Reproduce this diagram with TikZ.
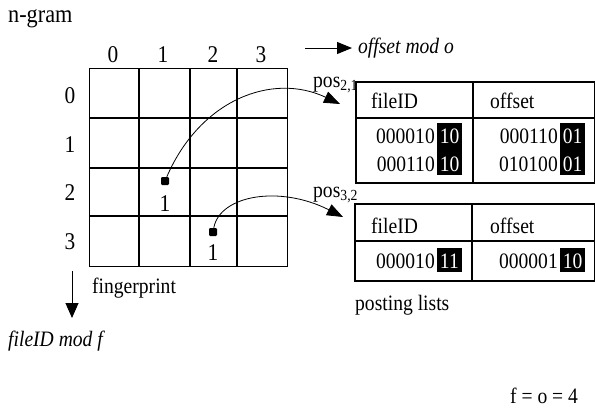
\documentclass[tikz,border=0pt]{standalone}
\usepackage{fontspec}
\setmainfont[FakeStretch=0.89]{Liberation Serif}
\usetikzlibrary{arrows.meta}

\tikzset{
  txt/.style = {inner sep=0pt, anchor=base west},
  num/.style = {inner sep=0pt, anchor=base east},
  lbl/.style = {inner sep=0pt, anchor=base, font=\fontsize{24}{26}\selectfont},
  hl/.style = {fill=black, text=white, inner xsep=2.75pt, inner ysep=0pt, anchor=base west},
  dotmark/.style = {fill=black, inner sep=0pt, minimum size=8pt, rounded corners=1.2pt},
  arrowline/.style = {line width=0.8pt, -{Triangle[length=16pt,width=12pt]}},
  listbox/.style = {draw, line width=1.6pt, inner sep=0pt, anchor=north west}
}

\begin{document}
\begin{tikzpicture}[x=1pt, y=-1pt, font=\fontsize{22}{24}\selectfont]
\useasboundingbox (0,0) rectangle (595,410);

\node[txt, font=\fontsize{25}{27}\selectfont] (ngram) at (8,22) {n-gram};

% matrix of the n-gram
\draw[line width=1pt] (89,68) rectangle (287,266);
\draw[line width=2.8pt] (139,68) -- (139,266) (190,68) -- (190,266) (237,68) -- (237,266)
    (89,118) -- (287,118) (89,168) -- (287,168) (89,216) -- (287,216);

\draw (113,62) node[lbl](c0){0}
    (163,62) node[lbl](c1){1}
    (213,62) node[lbl](c2){2}
    (261,62) node[lbl](c3){3};
\draw (70,103) node[lbl](r0){0}
    (70,152) node[lbl](r1){1}
    (70,200) node[lbl](r2){2}
    (70,249) node[lbl](r3){3};

\node[dotmark] (m21) at (165,181) {};
\node[lbl] (v21) at (165,211) {1};
\node[dotmark] (m32) at (213,232) {};
\node[lbl] (v32) at (213,260) {1};

\node[txt] (fp) at (92,293) {fingerprint};

% axes
\coordinate (ostart) at (305,48);
\node[txt] (omod) at (358,53) {\itshape offset mod o};
\draw[arrowline, line width=1pt, -{Triangle[length=15pt,width=12pt]}] (ostart) -- (352,48);
\coordinate (fstart) at (72,271);
\coordinate (fend) at (72,318);
\draw[arrowline, line width=1pt, -{Triangle[length=15pt,width=13pt]}] (fstart) -- (fend);
\node[txt] (fmod) at (8,346) {\itshape fileID mod f};

% posting lists
\node[listbox, minimum width=239pt, minimum height=101pt] (list1) at (355,81) {};
\draw[line width=1.2pt] (473,81) -- (473,182) (355,118) -- (594,118);
\node[txt] (h11) at (371,108) {fileID};
\node[txt] (h12) at (490,108) {offset};
\node[num] (a11) at (435,143) {000010};
\node[hl, text height=20pt, text depth=6pt] (b11) at (437,143) {10};
\node[num] (a12) at (558,143) {000110};
\node[hl, text height=20pt, text depth=6pt] (b12) at (560,143) {01};
\node[num] (a21) at (435,171) {000110};
\node[hl, text height=22pt, text depth=4pt] (b21) at (437,171) {10};
\node[num] (a22) at (558,171) {010100};
\node[hl, text height=22pt, text depth=4pt] (b22) at (560,171) {01};

\node[listbox, minimum width=240pt, minimum height=77pt] (list2) at (354,203) {};
\draw[line width=1.2pt] (472,203) -- (472,280) (354,241) -- (594,241);
\node[txt] (h21) at (371,233) {fileID};
\node[txt] (h22) at (490,233) {offset};
\node[num] (a31) at (435,268) {000010};
\node[hl, text height=20pt, text depth=4pt] (b31) at (437,268) {11};
\node[num] (a32) at (558,268) {000001};
\node[hl, text height=20pt, text depth=4pt] (b32) at (560,268) {10};

\node[txt] (plists) at (355,310) {posting lists};

\node[txt] (pos1) at (313,87) {pos\textsubscript{2,1}};
\node[txt] (pos2) at (313,197) {pos\textsubscript{3,2}};
\coordinate (in1) at (340,104);
\coordinate (in2) at (343,217);
\draw[arrowline] (m21) .. controls (200,100) and (272,72) .. (in1);
\draw[arrowline] (m32) .. controls (220,195) and (280,185) .. (in2);

\node[txt] (fo) at (510,403) {f = o = 4};
\end{tikzpicture}
\end{document}
